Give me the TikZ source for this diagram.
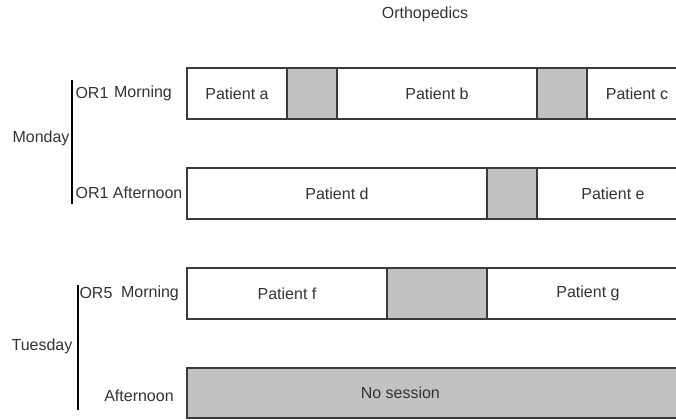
\documentclass[tikz,border=0pt]{standalone}
\usepackage{fontspec}
\setmainfont{Liberation Sans}
\usetikzlibrary{positioning}
\definecolor{slotline}{HTML}{3A3A3A}
\definecolor{slotgap}{HTML}{C2C2C2}
\definecolor{slottext}{HTML}{333333}

\begin{document}
\begin{tikzpicture}[
  x=0.75pt, y=-0.75pt,
  font=\fontsize{12}{14}\selectfont, text=slottext,
  seg/.style={draw=slotline, line width=1.5pt, fill=white, minimum height=38.25pt, inner sep=0pt, outer sep=0pt, anchor=west},
  gap/.style={seg, fill=slotgap},
  lbl/.style={inner sep=0pt},
  daybar/.style={line width=0.9pt, black}
]
\useasboundingbox (0,0) rectangle (676,419);
\clip (0,0) rectangle (676,419);

\node[lbl] (title) at (425,14) {Orthopedics};

% Monday, OR1 morning
\node[seg, minimum width=75pt] (pa) at (187,93.5) {Patient a};
\node[gap, minimum width=37.5pt, right=0pt of pa] (g1) {};
\node[seg, minimum width=150pt, right=0pt of g1] (pb) {Patient b};
\node[gap, minimum width=37.5pt, right=0pt of pb] (g2) {};
\node[seg, minimum width=75pt, right=0pt of g2] (pc) {Patient c};

% Monday, OR1 afternoon
\node[seg, minimum width=225pt] (pd) at (187,193.5) {Patient d};
\node[gap, minimum width=37.5pt, right=0pt of pd] (g3) {};
\node[seg, minimum width=114pt, right=0pt of g3] (pe) {Patient e};

% Tuesday, OR5 morning
\node[seg, minimum width=150pt] (pf) at (187,293.5) {Patient f};
\node[gap, minimum width=75pt, right=0pt of pf] (g4) {};
\node[seg, minimum width=151.5pt, right=0pt of g4] (pg) {Patient g};

% Tuesday afternoon
\node[gap, minimum width=390pt, minimum height=37.5pt] (ns) at (187,393) {\hspace*{-70pt}No session};

% row labels
\node[lbl] (or1m) at (92,93) {OR1};
\node[lbl] (mon1) at (143,93) {Morning};
\node[lbl] (or1a) at (129,193) {OR1 Afternoon};
\node[lbl] (or5m) at (96,293) {OR5};
\node[lbl] (mon5) at (150,293) {Morning};
\node[lbl] (aft5) at (139,396) {Afternoon};

\node[lbl] (mon) at (41,138) {Monday};
\coordinate (mtop) at (72,80);
\coordinate (mbot) at (72,204);
\draw[daybar] (mtop) -- (mbot);

\node[lbl] (tue) at (42,346) {Tuesday};
\coordinate (ttop) at (78,285);
\coordinate (tbot) at (78,410);
\draw[daybar] (ttop) -- (tbot);
\end{tikzpicture}
\end{document}
